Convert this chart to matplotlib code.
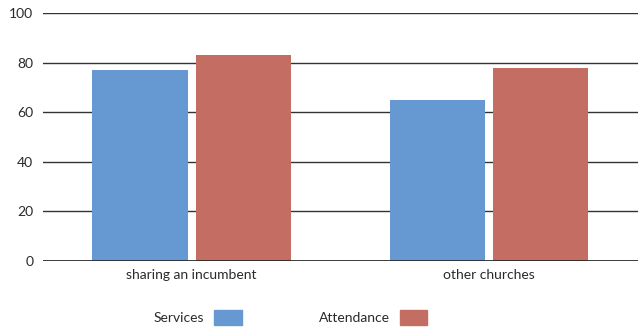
import numpy as np
import matplotlib.pyplot as plt
from matplotlib.patches import Patch

categories = ['sharing an incumbent', 'other churches']
services = [77, 65]
attendance = [83, 78]
series_names = ['Services', 'Attendance']
colors = ['#6699d2', '#c46e63']
yticks = [0, 20, 40, 60, 80, 100]

plt.rcParams['font.family'] = ['Lato', 'DejaVu Sans']

fig = plt.figure(figsize=(6.43, 3.29), dpi=100)
ax = fig.add_axes([0.0669, 0.2067, 0.925, 0.7538])

x = np.arange(len(categories))
w = 0.32
ax.bar(x - 0.174, services, width=w, color=colors[0], zorder=3)
ax.bar(x + 0.174, attendance, width=w, color=colors[1], zorder=3)

ax.set_xlim(-0.5, 1.5)
ax.set_ylim(0, 100)
ax.set_yticks(yticks)
ax.set_xticks(x)
ax.set_xticklabels(categories)
ax.yaxis.grid(True, color='#333333', linewidth=1.0, zorder=0)
ax.axhline(0, color='#222222', linewidth=1.2, zorder=4)
for s in ax.spines.values():
    s.set_visible(False)
ax.tick_params(axis='both', length=0, labelsize=10, colors='#2a2a2a')
ax.tick_params(axis='y', pad=7)
ax.tick_params(axis='x', pad=6)

handles = [Patch(color=c) for c in colors]
fig.legend(handles, series_names, loc='center', bbox_to_anchor=(0.452, 0.034),
           ncol=2, frameon=False, markerfirst=False, fontsize=10,
           handlelength=2.0, handleheight=1.3, handletextpad=0.72,
           columnspacing=5.5, borderpad=0, labelcolor='#2a2a2a')

fig.savefig('out.png', dpi=100)
